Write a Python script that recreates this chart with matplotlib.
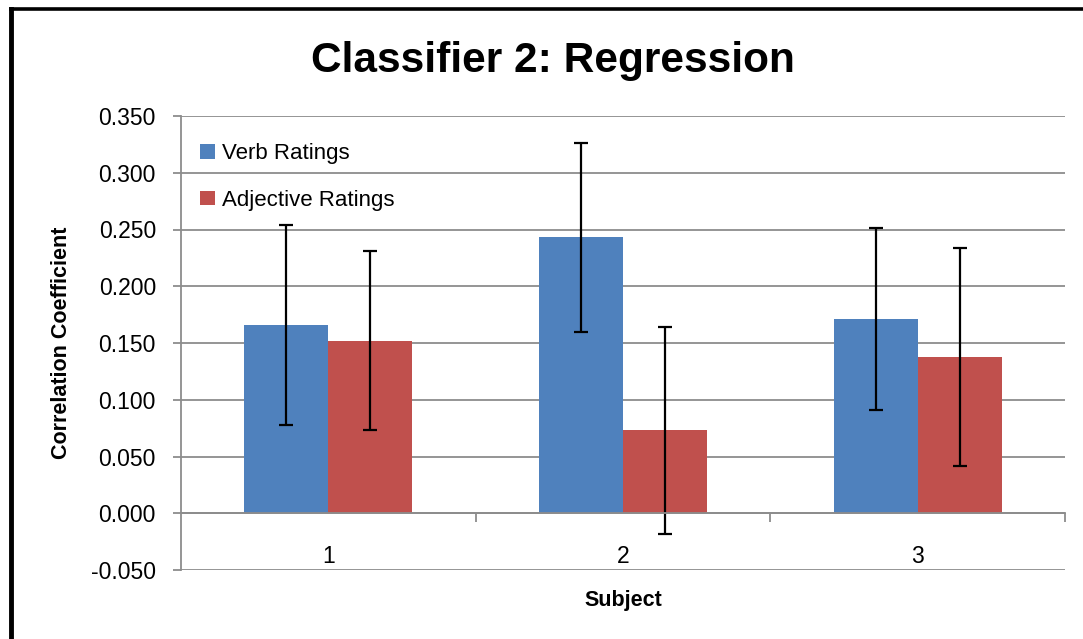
import matplotlib
matplotlib.use("Agg")
import matplotlib.pyplot as plt
from matplotlib.lines import Line2D
from matplotlib.ticker import FormatStrFormatter, FixedLocator
import numpy as np

plt.rcParams['font.family'] = ['Liberation Sans', 'DejaVu Sans']

# data -------------------------------------------------------------------------------
subjects = ['1', '2', '3']
verb_ratings = [0.166, 0.243, 0.171]
verb_err = [0.088, 0.083, 0.080]
adj_ratings = [0.152, 0.073, 0.138]
adj_err = [0.079, 0.091, 0.096]
y_ticks = [-0.05, 0.0, 0.05, 0.10, 0.15, 0.20, 0.25, 0.30, 0.35]

blue = '#4F81BD'
red = '#C0504D'
grid_grey = '#8c8c8c'

fig = plt.figure(figsize=(10.83, 6.39), dpi=100)
ax = fig.add_axes([181 / 1083, 1 - 570 / 639, (1065 - 181) / 1083, (570 - 116) / 639])

x = np.arange(1, len(subjects) + 1)
w = 0.285
err_kw = dict(ecolor='black', elinewidth=1.6, capsize=5, capthick=1.6)
ax.bar(x - w / 2, verb_ratings, w, yerr=verb_err, color=blue, label='Verb Ratings',
       error_kw=err_kw, zorder=2)
ax.bar(x + w / 2, adj_ratings, w, yerr=adj_err, color=red, label='Adjective Ratings',
       error_kw=err_kw, zorder=2)

# axes -------------------------------------------------------------------------------
ax.set_xlim(0.5, len(subjects) + 0.5)
ax.set_ylim(-0.05, 0.35)
ax.set_yticks(y_ticks)
ax.yaxis.set_major_formatter(FormatStrFormatter('%.3f'))
ax.yaxis.grid(True, color=grid_grey, lw=1.3, zorder=0)
ax.set_axisbelow(True)

ax.spines['top'].set_visible(False)
ax.spines['right'].set_visible(False)
ax.spines['left'].set_color(grid_grey)
ax.spines['left'].set_linewidth(1.3)
ax.spines['bottom'].set_position(('data', 0))
ax.spines['bottom'].set_color(grid_grey)
ax.spines['bottom'].set_linewidth(1.3)

ax.set_xticks(x)
ax.set_xticklabels(subjects)
ax.xaxis.set_minor_locator(FixedLocator(np.arange(1.5, len(subjects) + 1, 1.0)))
ax.tick_params(axis='x', which='major', length=0, pad=23, labelsize=16.5)
ax.tick_params(axis='x', which='minor', direction='out', length=6.5, width=1.3, color=grid_grey)
ax.tick_params(axis='y', direction='out', length=6, width=1.3, color=grid_grey, pad=12, labelsize=16.5)

ax.set_ylabel('Correlation Coefficient', fontsize=15.5, fontweight='bold')
ax.yaxis.set_label_coords(-0.123, 0.5)
ax.set_xlabel('Subject', fontsize=15.5, fontweight='bold')
ax.xaxis.set_label_coords(0.5, -0.043)

ax.legend(loc='upper left', bbox_to_anchor=(0.022, 0.94), frameon=False, fontsize=16,
          handlelength=0.65, handleheight=0.65, handletextpad=0.3, labelspacing=1.15,
          borderaxespad=0, borderpad=0)

fig.text(553 / 1083, 1 - 72 / 639, 'Classifier 2: Regression', ha='center', va='baseline',
         fontsize=30.5, fontweight='bold')

# black frame on the left and top edges of the picture
fig.add_artist(Line2D([11 / 1083, 11 / 1083], [0, 1 - 8.5 / 639], color='black', lw=3.5,
                      transform=fig.transFigure, solid_capstyle='projecting'))
fig.add_artist(Line2D([11 / 1083, 1], [1 - 8.5 / 639, 1 - 8.5 / 639], color='black', lw=2.6,
                      transform=fig.transFigure, solid_capstyle='projecting'))

fig.savefig('out.png', dpi=100)
